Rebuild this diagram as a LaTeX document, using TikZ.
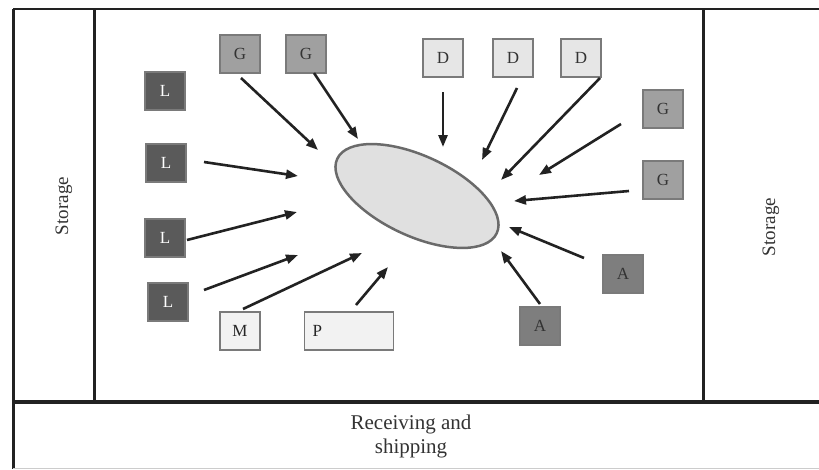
\documentclass[tikz,border=0pt]{standalone}
\usepackage{fontspec}
\setmainfont{Liberation Serif}
\usetikzlibrary{arrows.meta,shapes.geometric}
\definecolor{frame}{HTML}{222222}
\definecolor{dark}{HTML}{5A5A5A}
\definecolor{mid}{HTML}{A0A0A0}
\definecolor{agray}{HTML}{7E7E7E}
\definecolor{light}{HTML}{E6E6E6}
\definecolor{pale}{HTML}{F2F2F2}
\definecolor{edge}{HTML}{7A7A7A}
\definecolor{ellfill}{HTML}{E0E0E0}
\definecolor{elldraw}{HTML}{6A6A6A}
\tikzset{
  box/.style={draw=edge, line width=1.3pt, minimum width=40pt, minimum height=38pt, inner sep=0pt, font=\fontsize{17}{17}\selectfont},
  lbox/.style={box, fill=dark, text=white},
  gbox/.style={box, fill=mid, text=black!80},
  dbox/.style={box, fill=light, text=black!80},
  abox/.style={box, fill=agray, text=black!80},
  mbox/.style={box, fill=pale, text=black!85},
  arr/.style={line width=2.6pt, draw=frame, -{Triangle[length=12pt,width=9pt]}},
  wall/.style={line width=3pt, draw=frame},
  lbl/.style={font=\fontsize{21}{24}\selectfont, text=black!80, align=center},
  vlbl/.style={font=\fontsize{19}{22}\selectfont, text=black!80, rotate=90}
}
\begin{document}
\begin{tikzpicture}[x=1pt,y=-1pt]
\useasboundingbox (0,0) rectangle (819,469);
\fill[white] (0,0) rectangle (819,469);
% frame
\draw[line width=2pt, draw=frame] (13,9) -- (819,9);
\draw[wall] (13,9) -- (13,469);
\draw[wall] (94,9) -- (94,402);
\draw[wall] (703,9) -- (703,402);
\draw[line width=4pt, draw=frame] (13,402) -- (819,402);
\draw[line width=1pt, draw=black!20] (13,468) -- (819,468);
% labels
\node[vlbl] (st1) at (64,206) {Storage};
\node[vlbl] (st2) at (771,227) {Storage};
\node[lbl] (rs) at (411,436) {Receiving and\\shipping};
% central area
\node[draw=elldraw, fill=ellfill, line width=2.5pt, ellipse, inner sep=0pt, minimum width=176pt, minimum height=80pt, rotate=-25] (E) at (417,196) {};
% boxes
\node[gbox] (G1) at (240,54) {G};
\node[gbox] (G2) at (306,54) {G};
\node[lbox] (L1) at (165,91) {L};
\node[lbox] (L2) at (166,163) {L};
\node[lbox] (L3) at (165,238) {L};
\node[lbox] (L4) at (168,302) {L};
\node[mbox] (M) at (240,331) {M};
\node[mbox, minimum width=89pt, text width=73pt, align=left] (P) at (349,331) {P};
\node[dbox] (D1) at (443,58) {D};
\node[dbox] (D2) at (513,58) {D};
\node[dbox] (D3) at (581,58) {D};
\node[gbox] (G3) at (663,109) {G};
\node[gbox] (G4) at (663,180) {G};
\node[abox] (A1) at (623,274) {A};
\node[abox] (A2) at (540,326) {A};
% arrow ends
\coordinate (g1s) at (241,78);  \coordinate (g1e) at (318,150);
\coordinate (g2s) at (314,73);  \coordinate (g2e) at (358,139);
\coordinate (l2s) at (204,162); \coordinate (l2e) at (298,176);
\coordinate (l3s) at (187,240); \coordinate (l3e) at (297,212);
\coordinate (l4s) at (204,290); \coordinate (l4e) at (298,255);
\coordinate (ms)  at (243,309); \coordinate (me)  at (362,253);
\coordinate (ps)  at (356,305); \coordinate (pe)  at (388,267);
\coordinate (d1s) at (443,92);  \coordinate (d1e) at (443,147);
\coordinate (d2s) at (517,88);  \coordinate (d2e) at (482,160);
\coordinate (d3s) at (600,78);  \coordinate (d3e) at (501,180);
\coordinate (g3s) at (621,124); \coordinate (g3e) at (539,175);
\coordinate (g4s) at (629,191); \coordinate (g4e) at (514,201);
\coordinate (a1s) at (584,258); \coordinate (a1e) at (509,227);
\coordinate (a2s) at (540,304); \coordinate (a2e) at (501,251);
% arrows
\draw[arr] (g1s) -- (g1e);
\draw[arr] (g2s) -- (g2e);
\draw[arr] (l2s) -- (l2e);
\draw[arr] (l3s) -- (l3e);
\draw[arr] (l4s) -- (l4e);
\draw[arr] (ms) -- (me);
\draw[arr] (ps) -- (pe);
\draw[arr] (d1s) -- (d1e);
\draw[arr] (d2s) -- (d2e);
\draw[arr] (d3s) -- (d3e);
\draw[arr] (g3s) -- (g3e);
\draw[arr] (g4s) -- (g4e);
\draw[arr] (a1s) -- (a1e);
\draw[arr] (a2s) -- (a2e);
\end{tikzpicture}
\end{document}
